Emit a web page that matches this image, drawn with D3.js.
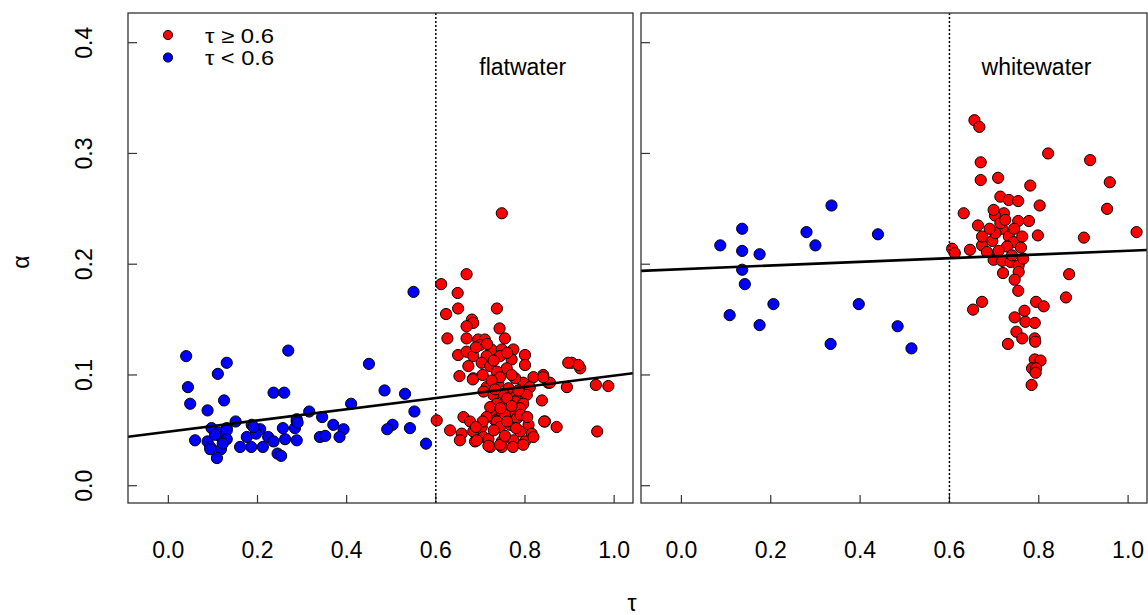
<!DOCTYPE html>
<html>
<head>
<meta charset="utf-8">
<script src="https://cdn.jsdelivr.net/npm/d3@7.9.0/dist/d3.min.js"></script>
<style>
  body { margin: 0; background: #fff; }
  svg text { font-family: "Liberation Sans", Arial, sans-serif; fill: #000; }
</style>
</head>
<body>
<svg id="chart" width="1148" height="615"></svg>
<script>
// tau, alpha pairs
const flatLow = [
  [0.040,0.117],[0.269,0.122],[0.131,0.111],[0.111,0.101],[0.450,0.110],[0.044,0.089],[0.236,0.084],
  [0.260,0.084],[0.485,0.086],[0.531,0.083],[0.125,0.077],[0.049,0.074],[0.088,0.068],[0.410,0.074],
  [0.316,0.067],[0.345,0.062],[0.552,0.067],[0.370,0.055],[0.393,0.051],[0.151,0.058],[0.097,0.052],
  [0.131,0.052],[0.187,0.055],[0.206,0.051],[0.257,0.052],[0.284,0.052],[0.288,0.058],[0.503,0.055],
  [0.491,0.051],[0.542,0.052],[0.060,0.041],[0.088,0.040],[0.112,0.048],[0.129,0.042],[0.094,0.035],
  [0.118,0.033],[0.109,0.025],[0.161,0.035],[0.186,0.035],[0.212,0.035],[0.176,0.044],[0.197,0.047],
  [0.224,0.044],[0.236,0.040],[0.262,0.042],[0.288,0.041],[0.245,0.029],[0.253,0.027],[0.340,0.044],
  [0.352,0.045],[0.384,0.044],[0.578,0.038],[0.288,0.060],[0.550,0.175],[0.191,0.053],[0.290,0.057],
  [0.118,0.044],[0.131,0.050],[0.094,0.033],[0.131,0.042],[0.105,0.046],[0.122,0.038]
];
const flatHigh = [
  [0.748,0.246],[0.669,0.191],[0.612,0.182],[0.649,0.174],[0.623,0.155],[0.650,0.160],[0.737,0.160],
  [0.626,0.133],[0.681,0.150],[0.684,0.147],[0.669,0.144],[0.743,0.142],[0.669,0.133],[0.755,0.133],
  [0.695,0.132],[0.710,0.132],[0.699,0.127],[0.725,0.123],[0.748,0.123],[0.774,0.123],[0.650,0.118],
  [0.669,0.121],[0.684,0.117],[0.714,0.117],[0.744,0.117],[0.770,0.114],[0.800,0.118],[0.800,0.109],
  [0.673,0.108],[0.703,0.111],[0.722,0.108],[0.759,0.106],[0.737,0.103],[0.653,0.099],[0.684,0.097],
  [0.905,0.111],[0.924,0.106],[0.920,0.109],[0.819,0.098],[0.841,0.100],[0.852,0.093],[0.894,0.089],
  [0.959,0.091],[0.987,0.090],[0.796,0.093],[0.740,0.093],[0.714,0.089],[0.707,0.085],[0.763,0.088],
  [0.811,0.089],[0.729,0.082],[0.752,0.083],[0.778,0.080],[0.804,0.082],[0.737,0.074],[0.759,0.074],
  [0.778,0.076],[0.796,0.074],[0.838,0.077],[0.726,0.067],[0.748,0.065],[0.774,0.067],[0.789,0.070],
  [0.602,0.059],[0.662,0.062],[0.677,0.058],[0.733,0.059],[0.755,0.064],[0.845,0.058],[0.871,0.053],
  [0.962,0.049],[0.632,0.050],[0.658,0.047],[0.684,0.049],[0.703,0.053],[0.737,0.058],[0.767,0.055],
  [0.808,0.055],[0.815,0.047],[0.789,0.049],[0.707,0.044],[0.654,0.041],[0.688,0.040],[0.718,0.042],
  [0.748,0.040],[0.774,0.041],[0.800,0.040],[0.722,0.035],[0.748,0.035],[0.773,0.035],[0.796,0.037],
  [0.819,0.044],[0.744,0.098],[0.725,0.095],[0.778,0.097],[0.722,0.071],[0.782,0.061],[0.744,0.053],
  [0.714,0.062],[0.692,0.041],[0.718,0.036],[0.744,0.037],[0.843,0.058],[0.856,0.093],[0.841,0.098],
  [0.683,0.096],[0.897,0.111],[0.733,0.087],[0.760,0.079],[0.785,0.086],[0.745,0.070],[0.770,0.072],
  [0.790,0.064],[0.760,0.058],[0.730,0.050],[0.780,0.052],[0.755,0.045],[0.705,0.058],[0.690,0.053],
  [0.805,0.062],[0.730,0.113],[0.760,0.120],[0.715,0.128],[0.690,0.125],[0.705,0.100],[0.770,0.100]
];
const whiteLow = [
  [0.336,0.253],[0.136,0.232],[0.280,0.229],[0.440,0.227],[0.087,0.217],[0.136,0.212],[0.175,0.209],
  [0.300,0.217],[0.136,0.195],[0.142,0.182],[0.206,0.164],[0.397,0.164],[0.108,0.154],[0.175,0.145],
  [0.484,0.144],[0.334,0.128],[0.515,0.124]
];
const whiteHigh = [
  [0.656,0.330],[0.667,0.324],[0.821,0.300],[0.915,0.294],[0.670,0.292],[0.959,0.274],[0.670,0.276],
  [0.709,0.278],[0.781,0.271],[0.953,0.250],[0.802,0.253],[0.632,0.246],[0.714,0.261],[0.733,0.258],
  [0.754,0.257],[0.722,0.246],[0.702,0.244],[0.664,0.235],[0.754,0.239],[0.778,0.239],[0.798,0.226],
  [0.901,0.224],[1.019,0.229],[0.606,0.214],[0.646,0.213],[0.673,0.217],[0.696,0.221],[0.718,0.232],
  [0.733,0.225],[0.744,0.220],[0.763,0.225],[0.729,0.216],[0.684,0.211],[0.673,0.225],[0.703,0.228],
  [0.714,0.237],[0.699,0.249],[0.612,0.210],[0.699,0.204],[0.718,0.203],[0.737,0.202],[0.755,0.199],
  [0.765,0.205],[0.720,0.192],[0.755,0.193],[0.746,0.186],[0.754,0.176],[0.868,0.191],[0.861,0.170],
  [0.673,0.166],[0.653,0.159],[0.794,0.166],[0.811,0.162],[0.768,0.158],[0.746,0.152],[0.770,0.148],
  [0.791,0.147],[0.750,0.139],[0.763,0.133],[0.791,0.133],[0.792,0.130],[0.731,0.128],[0.791,0.114],
  [0.804,0.113],[0.785,0.106],[0.794,0.106],[0.793,0.102],[0.784,0.091],[0.725,0.240],[0.745,0.232],
  [0.760,0.215],[0.710,0.212],[0.740,0.208],[0.690,0.232]
];

// fitted lines: [intercept, slope]
const flatFit = [0.0488, 0.0506];
const whiteFit = [0.1955, 0.0166];

const xTicks = [0, 0.2, 0.4, 0.6, 0.8, 1.0];
const yTicks = [0, 0.1, 0.2, 0.3, 0.4];
const cutoff = 0.6;

const svg = d3.select('#chart');
const plotTop = 13, plotBottom = 503, fs = 23;

const y = d3.scaleLinear().domain([-0.0156, 0.4268]).range([plotBottom, plotTop]);

function panel(x0, x1, low, high, fit, label, showY) {
    let x = d3.scaleLinear().domain([-0.0905, 1.0423]).range([x0, x1]);
    let g = svg.append('g');

    g.append('clipPath').attr('id', 'clip' + x0)
        .append('rect').attr('x', x0).attr('y', plotTop).attr('width', x1 - x0).attr('height', plotBottom - plotTop);

    // ticks, pointing into the box
    g.selectAll('.xt').data(xTicks).enter().append('line')
        .attr('x1', d => x(d)).attr('x2', d => x(d))
        .attr('y1', plotBottom).attr('y2', plotBottom - 8)
        .attr('stroke', '#333').attr('stroke-width', 1.2);
    g.selectAll('.yt').data(yTicks).enter().append('line')
        .attr('x1', x0).attr('x2', x0 + 9)
        .attr('y1', d => y(d)).attr('y2', d => y(d))
        .attr('stroke', '#333').attr('stroke-width', 1.2);

    g.selectAll('.xl').data(xTicks).enter().append('text')
        .attr('x', d => x(d)).attr('y', 558)
        .attr('text-anchor', 'middle').attr('font-size', fs)
        .text(d => d3.format('.1f')(d));

    if (showY) {
        g.selectAll('.yl').data(yTicks).enter().append('text')
            .attr('transform', d => `translate(92,${y(d)}) rotate(-90)`)
            .attr('text-anchor', 'middle').attr('font-size', fs)
            .text(d => d3.format('.1f')(d));
    }

    let pts = g.append('g').attr('clip-path', `url(#clip${x0})`);
    pts.selectAll('.lo').data(low).enter().append('circle')
        .attr('cx', d => x(d[0])).attr('cy', d => y(d[1])).attr('r', 5.6)
        .attr('fill', 'blue').attr('stroke', '#000').attr('stroke-width', 1);
    pts.selectAll('.hi').data(high).enter().append('circle')
        .attr('cx', d => x(d[0])).attr('cy', d => y(d[1])).attr('r', 5.6)
        .attr('fill', 'red').attr('stroke', '#000').attr('stroke-width', 1);

    pts.append('line')
        .attr('x1', x(cutoff)).attr('x2', x(cutoff))
        .attr('y1', plotTop).attr('y2', plotBottom)
        .attr('stroke', '#000').attr('stroke-width', 1.5).attr('stroke-dasharray', '2,2');

    let [a, b] = x.domain();
    pts.append('line')
        .attr('x1', x(a)).attr('y1', y(fit[0] + fit[1] * a))
        .attr('x2', x(b)).attr('y2', y(fit[0] + fit[1] * b))
        .attr('stroke', '#000').attr('stroke-width', 2.6);

    g.append('rect')
        .attr('x', x0).attr('y', plotTop).attr('width', x1 - x0).attr('height', plotBottom - plotTop)
        .attr('fill', 'none').attr('stroke', '#333').attr('stroke-width', 1.3);

    g.append('text')
        .attr('x', x(0.795)).attr('y', 75)
        .attr('text-anchor', 'middle').attr('font-size', fs)
        .text(label);
}

panel(128, 633, flatLow, flatHigh, flatFit, 'flatwater', true);
panel(641, 1147, whiteLow, whiteHigh, whiteFit, 'whitewater', false);

// legend
const legend = [['red', 'τ ≥ 0.6'], ['blue', 'τ < 0.6']];
legend.forEach(([c, t], i) => {
    svg.append('circle').attr('cx', 168).attr('cy', 35 + i * 22.5).attr('r', 4.6)
        .attr('fill', c).attr('stroke', '#000').attr('stroke-width', 1);
    svg.append('text').attr('x', 205).attr('y', 42.5 + i * 22.5)
        .attr('font-size', 20).attr('textLength', 69).attr('lengthAdjust', 'spacingAndGlyphs')
        .text(t);
});

// axis titles
svg.append('text').attr('x', 632).attr('y', 611)
    .attr('text-anchor', 'middle').attr('font-size', fs).text('τ');
svg.append('text').attr('transform', 'translate(29,262) rotate(-90)')
    .attr('text-anchor', 'middle').attr('font-size', fs).text('α');
</script>
</body>
</html>
